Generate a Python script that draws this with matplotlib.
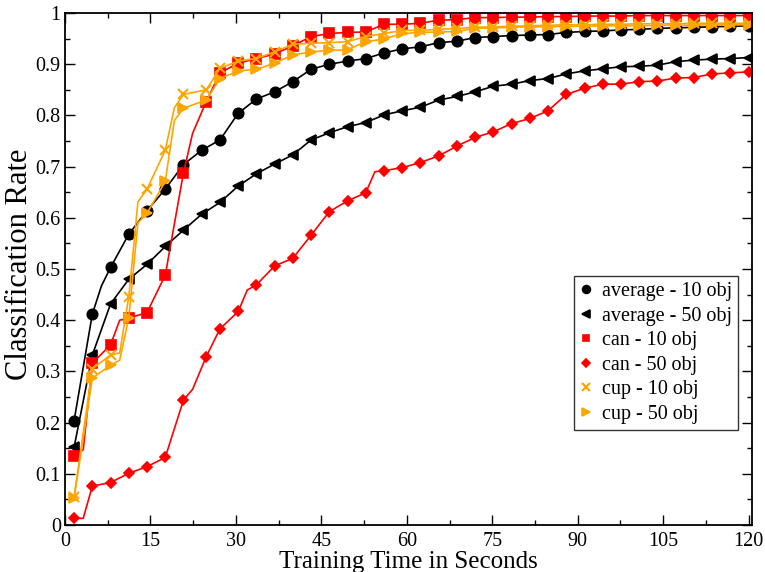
import numpy as np
import matplotlib
matplotlib.use("Agg")
import matplotlib.pyplot as plt
from matplotlib.ticker import MultipleLocator, FixedLocator, FixedFormatter

# Marker sample times (seconds)
marker_t_avg = [1.6, 4.8, 8.0, 11.2, 14.4, 17.6, 20.8, 24.0, 27.2, 30.4, 33.6, 36.8, 40.0,
                43.2, 46.4, 49.6, 52.8, 56.0, 59.2, 62.4, 65.6, 68.8, 72.0, 75.2, 78.4,
                81.6, 84.8, 88.0, 91.2, 94.4, 97.6, 100.8, 104.0, 107.2, 110.4, 113.6,
                116.8, 120.0]
marker_t_obj = [1.6, 4.8, 8.0, 11.2, 14.4, 17.6, 20.8, 24.8, 27.2, 30.4, 33.6, 36.8, 40.0,
                43.2, 46.4, 49.6, 52.8, 56.0, 59.2, 62.4, 65.6, 68.8, 72.0, 75.2, 78.4,
                81.6, 84.8, 88.0, 91.2, 94.4, 97.6, 100.8, 104.0, 107.2, 110.4, 113.6,
                116.8, 120.0]

# average - 10 obj
avg10_t = [1.6, 4.8, 6.4] + marker_t_avg[2:]
avg10_y = [0.204, 0.412, 0.467, 0.503, 0.568, 0.614, 0.656, 0.704, 0.732, 0.752, 0.804,
           0.832, 0.846, 0.866, 0.890, 0.900, 0.906, 0.911, 0.922, 0.930, 0.934, 0.942,
           0.945, 0.952, 0.954, 0.956, 0.957, 0.958, 0.962, 0.964, 0.965, 0.967, 0.968,
           0.970, 0.971, 0.972, 0.973, 0.974, 0.975]

# average - 50 obj
avg50_t = list(marker_t_avg)
avg50_y = [0.152, 0.332, 0.432, 0.480, 0.509, 0.544, 0.576, 0.607, 0.630, 0.662, 0.686,
           0.705, 0.723, 0.752, 0.766, 0.778, 0.786, 0.801, 0.809, 0.816, 0.830, 0.837,
           0.846, 0.857, 0.861, 0.868, 0.872, 0.881, 0.887, 0.891, 0.895, 0.896, 0.898,
           0.905, 0.908, 0.910, 0.911, 0.913]

# can - 10 obj
can10_t = [1.6, 3.2, 4.8, 8.0, 9.6, 11.2, 14.4, 17.6, 20.8, 22.4, 24.8] + marker_t_obj[8:]
can10_y = [0.135, 0.147, 0.316, 0.352, 0.400, 0.404, 0.415, 0.488, 0.688, 0.765, 0.827,
           0.883, 0.902, 0.911, 0.920, 0.936, 0.954, 0.960, 0.962, 0.963, 0.978, 0.978,
           0.980, 0.986, 0.987, 0.991, 0.991, 0.992, 0.992, 0.993, 0.993, 0.994, 0.994,
           0.994, 0.995, 0.995, 0.995, 0.995, 0.995, 0.995, 0.995]

# can - 50 obj
can50_t = ([1.6, 3.2, 4.8, 8.0, 11.2, 14.4, 17.6, 20.8, 22.4, 24.8, 27.2, 30.4, 32.0]
           + [33.6, 36.8, 40.0, 43.2, 46.4, 49.6, 52.8, 54.4] + marker_t_obj[17:])
can50_y = [0.013, 0.013, 0.076, 0.083, 0.101, 0.114, 0.132, 0.244, 0.265, 0.329, 0.383,
           0.417, 0.459, 0.469, 0.506, 0.521, 0.566, 0.612, 0.633, 0.649, 0.690, 0.692,
           0.698, 0.708, 0.721, 0.740, 0.757, 0.768, 0.784, 0.794, 0.809, 0.841, 0.853,
           0.861, 0.861, 0.866, 0.867, 0.873, 0.874, 0.881, 0.883, 0.885]

# cup - 10 obj
cup10_t = [1.6, 4.8, 8.0, 9.6, 11.2, 12.8, 14.4, 17.6, 19.2, 20.8, 24.8] + marker_t_obj[8:]
cup10_y = [0.055, 0.305, 0.332, 0.336, 0.446, 0.631, 0.656, 0.732, 0.815, 0.841, 0.850,
           0.892, 0.906, 0.911, 0.924, 0.939, 0.941, 0.942, 0.944, 0.954, 0.960, 0.966,
           0.966, 0.968, 0.970, 0.972, 0.973, 0.974, 0.975, 0.976, 0.977, 0.977, 0.978,
           0.978, 0.979, 0.979, 0.979, 0.980, 0.980, 0.980, 0.980]

# cup - 50 obj
cup50_t = [1.6, 4.8, 8.0, 9.6, 11.2, 12.8, 14.4, 17.6, 19.2, 20.8, 24.8] + marker_t_obj[8:]
cup50_y = [0.053, 0.287, 0.312, 0.322, 0.405, 0.590, 0.609, 0.671, 0.790, 0.814, 0.830,
           0.872, 0.887, 0.890, 0.902, 0.918, 0.924, 0.927, 0.928, 0.944, 0.949, 0.960,
           0.962, 0.963, 0.964, 0.970, 0.971, 0.972, 0.973, 0.973, 0.974, 0.974, 0.975,
           0.975, 0.975, 0.976, 0.976, 0.976, 0.977, 0.977, 0.977]

labels = ["average - 10 obj", "average - 50 obj", "can - 10 obj",
          "can - 50 obj", "cup - 10 obj", "cup - 50 obj"]
x_ticks = [0, 15, 30, 45, 60, 75, 90, 105, 120]
y_ticks = [0, 0.1, 0.2, 0.3, 0.4, 0.5, 0.6, 0.7, 0.8, 0.9, 1.0]
y_tick_labels = ["0", "0.1", "0.2", "0.3", "0.4", "0.5", "0.6", "0.7", "0.8", "0.9", "1"]

plt.rcParams['font.family'] = ['Liberation Serif', 'DejaVu Serif']

fig = plt.figure(figsize=(7.65, 5.72), dpi=100)
ax = fig.add_axes([65 / 765, 1 - 525 / 572, 687 / 765, 512 / 572])

series = [
    (avg10_t, avg10_y, marker_t_avg, "black", "o", 7.5, 1.2),
    (avg50_t, avg50_y, marker_t_avg, "black", "<", 7.5, 1.2),
    (can10_t, can10_y, marker_t_obj, "#ff0000", "s", 6.5, 1.2),
    (can50_t, can50_y, marker_t_obj, "#ff0000", "D", 5.5, 1.2),
    (cup10_t, cup10_y, marker_t_obj, "#ffa500", "x", 7.5, 1.5),
    (cup50_t, cup50_y, marker_t_obj, "#ffa500", ">", 7.5, 1.2),
]
for (t, y, mt, c, m, ms, mew), lab in zip(series, labels):
    t = np.asarray(t)
    mask = np.array([np.any(np.isclose(v, mt)) for v in t])
    ax.plot(t, y, color=c, lw=1.2, marker=m, markersize=ms, markevery=list(mask),
            markeredgewidth=mew, markerfacecolor=c, markeredgecolor=c, label=lab)

ax.set_xlim(0, 120.6)
ax.set_ylim(0, 1)
ax.xaxis.set_major_locator(FixedLocator(x_ticks))
ax.xaxis.set_minor_locator(MultipleLocator(7.5))
ax.yaxis.set_major_locator(FixedLocator(y_ticks))
ax.yaxis.set_major_formatter(FixedFormatter(y_tick_labels))
ax.yaxis.set_minor_locator(MultipleLocator(0.05))
ax.tick_params(which='both', direction='in', top=True, right=True, labelsize=14.5,
               width=1.0)
ax.tick_params(which='major', length=7)
ax.tick_params(which='minor', length=3.5)
ax.tick_params(axis='x', pad=5)
ax.tick_params(axis='y', pad=3)
for s in ax.spines.values():
    s.set_linewidth(1.3)

ax.set_xlabel("Training Time in Seconds", fontsize=18, labelpad=0)
ax.set_ylabel("Classification Rate", fontsize=22, labelpad=0)
ax.yaxis.set_label_coords(-0.045, 0.51)

leg_handles = []
for (t, y, mt, c, m, ms, mew) in series:
    leg_handles.append(plt.Line2D([], [], ls='none', marker=m, color=c,
                                  markersize=ms * 0.75, markeredgewidth=mew))
leg = ax.legend(leg_handles, labels, loc='upper right', bbox_to_anchor=(0.98, 0.486),
                fontsize=14.5, frameon=True, fancybox=False, edgecolor='black',
                handlelength=0.6, handletextpad=0.5, borderpad=0.3, labelspacing=0.27,
                borderaxespad=0)
leg.get_frame().set_linewidth(1.0)

fig.savefig("out.png", dpi=100)
